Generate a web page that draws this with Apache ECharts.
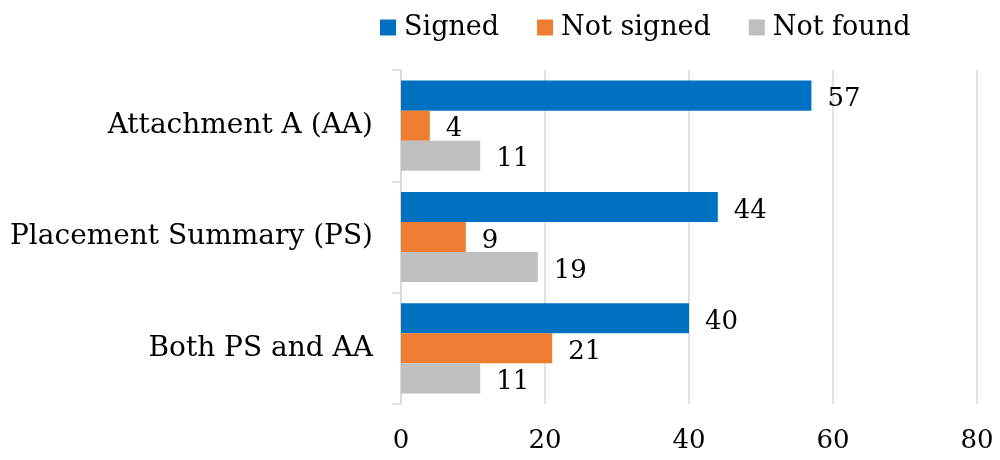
<!DOCTYPE html>
<html>
<head>
<meta charset="utf-8">
<script src="https://cdn.jsdelivr.net/npm/echarts@6/dist/echarts.min.js"></script>
<style>
  html, body { margin: 0; padding: 0; background: #fff; }
  #chart { width: 1000px; height: 460px; }
</style>
</head>
<body>
<div id="chart"></div>
<script>
// Document status counts per form type
const categories = ['Attachment A (AA)', 'Placement Summary (PS)', 'Both PS and AA'];
const signed = [57, 44, 40];
const notSigned = [4, 9, 21];
const notFound = [11, 19, 11];
const xTicks = [0, 20, 40, 60, 80];

const FONT = 'DejaVu Serif';
const chart = echarts.init(document.getElementById('chart'));

function barSeries(name, data, color) {
  return {
    name: name,
    type: 'bar',
    data: data,
    barGap: '0%',
    barCategoryGap: '19%',
    itemStyle: { color: color },
    label: {
      show: true,
      position: 'right',
      distance: 16,
      offset: [0, 4],
      color: '#000',
      fontFamily: FONT,
      fontSize: 26
    }
  };
}

chart.setOption({
  animation: false,
  textStyle: { fontFamily: FONT },
  legend: {
    top: 9,
    left: 375,
    itemWidth: 16,
    itemHeight: 16,
    itemGap: 38,
    icon: 'rect',
    textStyle: { fontFamily: FONT, fontSize: 27, color: '#000', padding: [0, 0, 0, 3] },
    data: ['Signed', 'Not signed', 'Not found']
  },
  grid: { left: 401, right: 23, top: 70, bottom: 56 },
  xAxis: {
    type: 'value',
    min: xTicks[0],
    max: xTicks[xTicks.length - 1],
    interval: 20,
    axisLine: { show: false },
    axisTick: { show: false },
    splitLine: { lineStyle: { color: '#d9d9d9', width: 1.5 } },
    axisLabel: { fontFamily: FONT, fontSize: 26, color: '#000', margin: 24 }
  },
  yAxis: {
    type: 'category',
    inverse: true,
    data: categories,
    axisLine: { lineStyle: { color: '#d9d9d9', width: 1.5 } },
    axisTick: { show: true, length: 9, lineStyle: { color: '#d9d9d9', width: 1.5 } },
    axisLabel: { fontFamily: FONT, fontSize: 28, color: '#000', margin: 28 }
  },
  series: [
    barSeries('Signed', signed, '#0070c0'),
    barSeries('Not signed', notSigned, '#ed7d31'),
    barSeries('Not found', notFound, '#bfbfbf')
  ]
});
</script>
</body>
</html>
